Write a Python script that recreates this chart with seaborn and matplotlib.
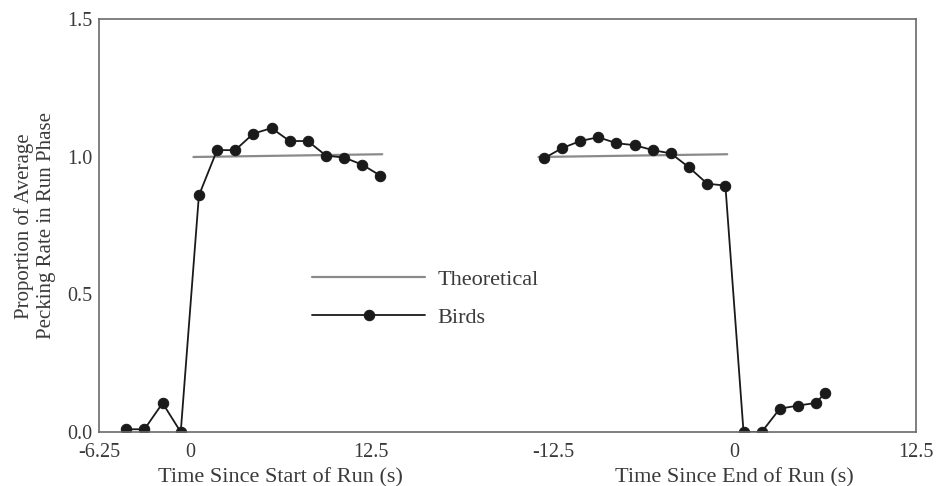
import matplotlib
matplotlib.use("Agg")
import matplotlib.pyplot as plt
from matplotlib.ticker import FixedLocator, FixedFormatter
import seaborn as sns
import pandas as pd

# Pecking rate around the start of a run (bin midpoints, s)
start_time = [-4.375, -3.125, -1.875, -0.625, 0.625, 1.875, 3.125, 4.375,
              5.625, 6.875, 8.125, 9.375, 10.625, 11.875, 13.125]
start_birds = [0.01, 0.01, 0.105, 0.0, 0.86, 1.025, 1.025, 1.085,
               1.105, 1.058, 1.058, 1.005, 0.998, 0.972, 0.932]

# Pecking rate around the end of a run (bin midpoints, s)
end_time = [-13.125, -11.875, -10.625, -9.375, -8.125, -6.875, -5.625,
            -4.375, -3.125, -1.875, -0.625, 0.625, 1.875, 3.125, 4.375,
            5.625, 6.25]
end_birds = [0.995, 1.032, 1.058, 1.072, 1.05, 1.043, 1.025, 1.013,
             0.962, 0.903, 0.896, 0.0, 0.0, 0.085, 0.096, 0.106, 0.143]

# Theoretical prediction during the run phase
theory_start_time = [0.25, 13.25]
theory_start = [1.0, 1.01]
theory_end_time = [-13.5, -0.5]
theory_end = [1.0, 1.01]

x_tick_values = [-6.25, 0, 12.5, -12.5, 0, 12.5]
x_tick_labels = ["-6.25", "0", "12.5", "-12.5", "0", "12.5"]
y_tick_values = [0.0, 0.5, 1.0, 1.5]
y_tick_labels = ["0.0", "0.5", "1.0", "1.5"]

# The end-of-run panel shares one axis, shifted right by this amount
END_SHIFT = 37.5

sns.set_theme(style="white")
plt.rcParams["font.family"] = ["Liberation Serif", "DejaVu Serif"]

ink = "#3a3a3a"
frame = "#6a6a6a"

start_df = pd.DataFrame({"t": start_time, "rate": start_birds})
end_df = pd.DataFrame({"t": [t + END_SHIFT for t in end_time], "rate": end_birds})
th_start_df = pd.DataFrame({"t": theory_start_time, "rate": theory_start})
th_end_df = pd.DataFrame({"t": [t + END_SHIFT for t in theory_end_time],
                          "rate": theory_end})

fig = plt.figure(figsize=(9.37, 4.86), dpi=100)
ax = fig.add_axes([0.1057, 0.1111, 0.8719, 0.8488])

theory_kw = dict(x="t", y="rate", color="#8a8a8a", linewidth=1.6,
                 estimator=None, ax=ax)
birds_kw = dict(x="t", y="rate", color="#1a1a1a", linewidth=1.3,
                marker="o", markersize=7.5, markeredgecolor="#1a1a1a",
                estimator=None, ax=ax)

sns.lineplot(data=th_start_df, label="Theoretical", **theory_kw)
sns.lineplot(data=th_end_df, label="_nolegend_", **theory_kw)
sns.lineplot(data=start_df, label="Birds", **birds_kw)
sns.lineplot(data=end_df, label="_nolegend_", **birds_kw)

ax.set_xlim(-6.25, 50)
ax.set_ylim(0, 1.5)

major_x = [x_tick_values[0], x_tick_values[1], x_tick_values[2],
           x_tick_values[3] + END_SHIFT, x_tick_values[4] + END_SHIFT,
           x_tick_values[5] + END_SHIFT]
ax.xaxis.set_major_locator(FixedLocator(major_x))
ax.xaxis.set_major_formatter(FixedFormatter(x_tick_labels))
ax.xaxis.set_minor_locator(FixedLocator([6.25, 18.75, 31.25, 43.75]))
ax.yaxis.set_major_locator(FixedLocator(y_tick_values))
ax.yaxis.set_major_formatter(FixedFormatter(y_tick_labels))
ax.yaxis.set_minor_locator(FixedLocator([0.25, 0.75, 1.25]))

ax.tick_params(which="both", direction="in", colors=frame, labelcolor=ink,
               labelsize=14.5, width=1.0, length=4)
ax.tick_params(axis="x", pad=8)
ax.tick_params(axis="y", pad=5)

for side in ["left", "right", "top", "bottom"]:
    ax.spines[side].set_visible(True)
    ax.spines[side].set_color(frame)
    ax.spines[side].set_linewidth(1.2)

ax.set_xlabel("")
ax.set_ylabel("Proportion of Average\nPecking Rate in Run Phase",
              fontsize=15, color=ink, labelpad=8, linespacing=1.2)

blend = ax.get_xaxis_transform()
ax.text(6.25, -0.11, "Time Since Start of Run (s)", transform=blend,
        ha="center", va="center", fontsize=16, color=ink)
ax.text(END_SHIFT, -0.11, "Time Since End of Run (s)", transform=blend,
        ha="center", va="center", fontsize=16, color=ink)

leg = ax.legend(loc="center left", bbox_to_anchor=(0.2607, 0.3236),
                frameon=False, handlelength=5.1, handletextpad=0.55,
                labelspacing=0.8, borderpad=0, borderaxespad=0,
                fontsize=16, numpoints=1)
for txt in leg.get_texts():
    txt.set_color(ink)

fig.savefig("out.png", dpi=100, facecolor="white")
